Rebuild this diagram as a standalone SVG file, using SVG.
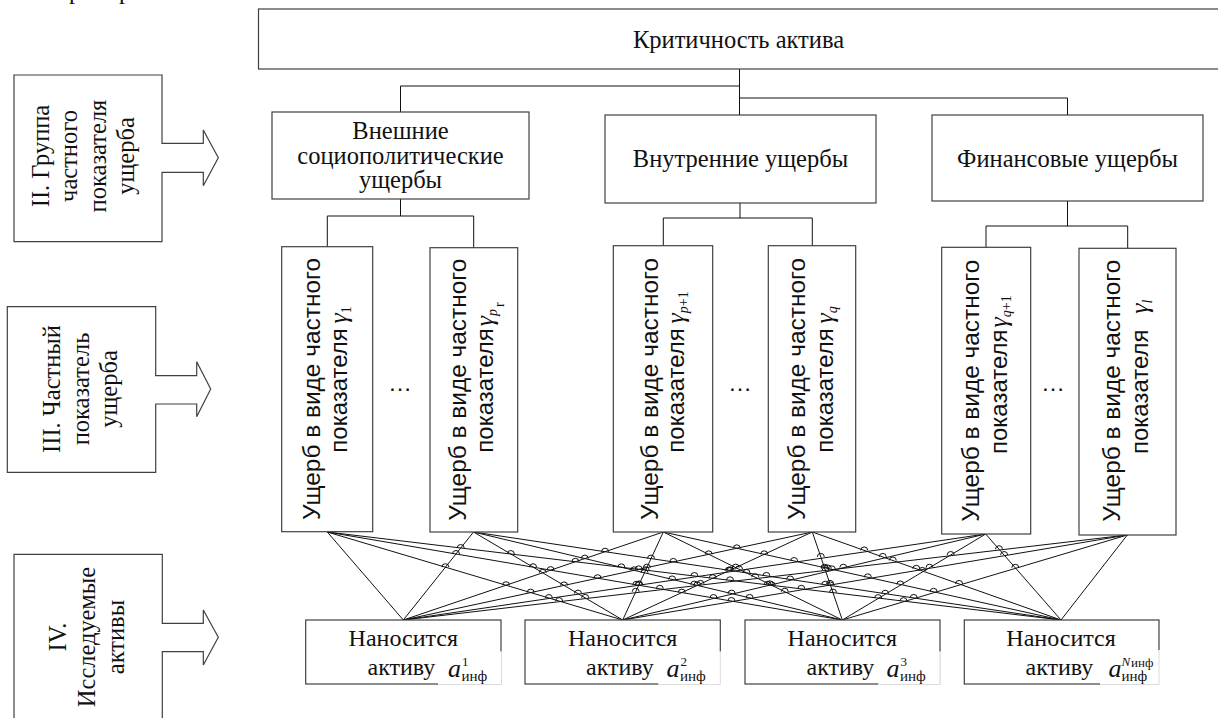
<svg xmlns="http://www.w3.org/2000/svg" width="1218" height="718" viewBox="0 0 1218 718">
<style>
.bx{fill:#fff;stroke:#404040;stroke-width:1.2}
.ln{fill:none;stroke:#111;stroke-width:1}
.sr{font-family:"Liberation Serif","Times New Roman",serif;font-size:24.5px;fill:#111}
.sb{font-family:"Liberation Serif","Times New Roman",serif;font-size:24px;fill:#111}
.ss{font-family:"Liberation Sans",Arial,sans-serif;font-size:24px;fill:#111}
.gm{font-family:"Liberation Serif","Times New Roman",serif;font-style:italic;font-size:26px}
.gs{font-family:"Liberation Serif","Times New Roman",serif;font-size:14px}
.ma{font-family:"Liberation Serif","Times New Roman",serif;font-style:italic;font-size:26px;fill:#111}
.mu{font-family:"Liberation Serif","Times New Roman",serif;font-size:13px;fill:#111}
.mi{font-family:"Liberation Serif","Times New Roman",serif;font-size:15px;fill:#111}
.ov{fill:#fff;stroke:none}
.ol{stroke:#dcdcdc;stroke-width:1;fill:none}
</style>
<rect width="1218" height="718" fill="#fff"/>
<text class="sr" x="69" y="-1">р</text>
<text class="sr" x="119" y="-1">р</text>

<g id="connectors" class="ln">
<path d="M739.5,69 V115 M400.5,86 H739.5 M400.5,86 V112 M739.5,98 H1067.5 V115"/>
<path d="M400.5,199 V216 M327.3,216 H473.7 M327.3,216 V247 M473.7,216 V248"/>
<path d="M740,203 V218 M663.3,218 H812.3 M663.3,218 V246 M812.3,218 V246"/>
<path d="M1067.5,201 V226 M986,226 H1127.7 M986,226 V247.5 M1127.7,226 V248.5"/>
<path d="M327.3,532 L403.3,620 M327.3,532 L622.7,620 M327.3,532 L842.3,620 M327.3,532 L1061,620"/>
<path d="M473.5,532 L403.3,620 M473.5,532 L622.7,620 M473.5,532 L842.3,620 M473.5,532 L1061,620"/>
<path d="M663.3,532 L403.3,620 M663.3,532 L622.7,620 M663.3,532 L842.3,620 M663.3,532 L1061,620"/>
<path d="M812.3,532 L403.3,620 M812.3,532 L622.7,620 M812.3,532 L842.3,620 M812.3,532 L1061,620"/>
<path d="M985.7,534 L403.3,620 M985.7,534 L622.7,620 M985.7,534 L842.3,620 M985.7,534 L1061,620"/>
<path d="M1127.3,535 L403.3,620 M1127.3,535 L622.7,620 M1127.3,535 L842.3,620 M1127.3,535 L1061,620"/>
<path id="hops" d="
M441.9,567.2 a3.5,3.5 0 0 1 7,0 M452.5,554 a3.5,3.5 0 0 1 7,0 M457.2,548 a3.5,3.5 0 0 1 7,0 M529.6,567.2 a3.5,3.5 0 0 1 7,0 M507.3,554 a3.5,3.5 0 0 1 7,0 M617.8,567.3 a3.5,3.5 0 0 1 7,0
M502.5,585.2 a3.5,3.5 0 0 1 7,0 M547.1,570.1 a3.5,3.5 0 0 1 7,0 M571.9,561.8 a3.5,3.5 0 0 1 7,0 M635.3,585.2 a3.5,3.5 0 0 1 7,0 M642.2,570.2 a3.5,3.5 0 0 1 7,0 M768.2,585.3 a3.5,3.5 0 0 1 7,0
M527.2,592.6 a3.5,3.5 0 0 1 7,0 M594.1,578.2 a3.5,3.5 0 0 1 7,0 M635.2,569.3 a3.5,3.5 0 0 1 7,0 M678.3,592.6 a3.5,3.5 0 0 1 7,0 M709.2,578.2 a3.5,3.5 0 0 1 7,0 M829.5,592.6 a3.5,3.5 0 0 1 7,0
M545.4,598 a3.5,3.5 0 0 1 7,0 M632.8,584.8 a3.5,3.5 0 0 1 7,0 M690.9,576 a3.5,3.5 0 0 1 7,0 M710,598 a3.5,3.5 0 0 1 7,0 M764.2,584.8 a3.5,3.5 0 0 1 7,0 M874.6,598.1 a3.5,3.5 0 0 1 7,0
M555.6,601.1 a3.5,3.5 0 0 1 7,0 M656.3,588.8 a3.5,3.5 0 0 1 7,0 M726.5,580.3 a3.5,3.5 0 0 1 7,0 M727.9,601 a3.5,3.5 0 0 1 7,0 M797.8,588.8 a3.5,3.5 0 0 1 7,0 M900,601.1 a3.5,3.5 0 0 1 7,0
M539.2,572.8 a3.5,3.5 0 0 1 7,0 M581.3,558.6 a3.5,3.5 0 0 1 7,0 M601.6,551.7 a3.5,3.5 0 0 1 7,0 M641,572.8 a3.5,3.5 0 0 1 7,0 M647.5,558.6 a3.5,3.5 0 0 1 7,0 M743,572.9 a3.5,3.5 0 0 1 7,0
M560.6,585.4 a3.5,3.5 0 0 1 7,0 M630.6,570.3 a3.5,3.5 0 0 1 7,0 M669.8,561.9 a3.5,3.5 0 0 1 7,0 M693.8,585.4 a3.5,3.5 0 0 1 7,0 M726.1,570.4 a3.5,3.5 0 0 1 7,0 M827,585.5 a3.5,3.5 0 0 1 7,0
M574.5,593.6 a3.5,3.5 0 0 1 7,0 M668.6,579.4 a3.5,3.5 0 0 1 7,0 M727.2,570.5 a3.5,3.5 0 0 1 7,0 M728.1,593.6 a3.5,3.5 0 0 1 7,0 M786.6,579.4 a3.5,3.5 0 0 1 7,0 M881.7,593.7 a3.5,3.5 0 0 1 7,0
M581.7,597.9 a3.5,3.5 0 0 1 7,0 M690.7,584.6 a3.5,3.5 0 0 1 7,0 M762.9,575.9 a3.5,3.5 0 0 1 7,0 M746.1,597.9 a3.5,3.5 0 0 1 7,0 M821.7,584.7 a3.5,3.5 0 0 1 7,0 M910.2,597.9 a3.5,3.5 0 0 1 7,0
M643.4,567.6 a3.5,3.5 0 0 1 7,0 M705.2,554.3 a3.5,3.5 0 0 1 7,0 M733.3,548.3 a3.5,3.5 0 0 1 7,0 M732.2,567.6 a3.5,3.5 0 0 1 7,0 M760.7,554.3 a3.5,3.5 0 0 1 7,0 M821,567.7 a3.5,3.5 0 0 1 7,0
M635.6,584.4 a3.5,3.5 0 0 1 7,0 M735.6,569.3 a3.5,3.5 0 0 1 7,0 M790.6,561 a3.5,3.5 0 0 1 7,0 M766.3,584.3 a3.5,3.5 0 0 1 7,0 M828.3,569.3 a3.5,3.5 0 0 1 7,0 M896.8,584.4 a3.5,3.5 0 0 1 7,0
M632.2,591.8 a3.5,3.5 0 0 1 7,0 M751.8,577.2 a3.5,3.5 0 0 1 7,0 M824.3,568.4 a3.5,3.5 0 0 1 7,0 M781.3,591.7 a3.5,3.5 0 0 1 7,0 M864.3,577.3 a3.5,3.5 0 0 1 7,0 M930.1,591.8 a3.5,3.5 0 0 1 7,0
M725.1,570.8 a3.5,3.5 0 0 1 7,0 M817.3,556.9 a3.5,3.5 0 0 1 7,0 M860.7,550.4 a3.5,3.5 0 0 1 7,0 M822,570.8 a3.5,3.5 0 0 1 7,0 M879.3,556.9 a3.5,3.5 0 0 1 7,0 M918.8,570.9 a3.5,3.5 0 0 1 7,0
M697,583.9 a3.5,3.5 0 0 1 7,0 M821.3,568.8 a3.5,3.5 0 0 1 7,0 M889.3,560.5 a3.5,3.5 0 0 1 7,0 M826.5,583.8 a3.5,3.5 0 0 1 7,0 M912.8,568.8 a3.5,3.5 0 0 1 7,0 M955.6,583.9 a3.5,3.5 0 0 1 7,0
M839.8,567.7 a3.5,3.5 0 0 1 7,0 M947.2,555 a3.5,3.5 0 0 1 7,0 M995.5,549.2 a3.5,3.5 0 0 1 7,0 M926,567.7 a3.5,3.5 0 0 1 7,0 M1000.6,555 a3.5,3.5 0 0 1 7,0 M1011.8,567.8 a3.5,3.5 0 0 1 7,0"/>
</g>

<g id="top">
<rect class="bx" x="258.5" y="9" width="975" height="60"/>
<text class="sr" x="738.5" y="48" text-anchor="middle">Критичность актива</text>
</g>

<g id="grp-ext">
<rect class="bx" x="272" y="112" width="257" height="87"/>
<text class="sr" x="400.5" y="138.5" text-anchor="middle">Внешние</text>
<text class="sr" x="400.5" y="163.5" text-anchor="middle">социополитические</text>
<text class="sr" x="400.5" y="188" text-anchor="middle">ущербы</text>
</g>
<g id="grp-int">
<rect class="bx" x="605" y="115" width="271" height="88"/>
<text class="sr" x="740.5" y="167" text-anchor="middle">Внутренние ущербы</text>
</g>
<g id="grp-fin">
<rect class="bx" x="932" y="115" width="271" height="86"/>
<text class="sr" x="1067.5" y="167" text-anchor="middle">Финансовые ущербы</text>
</g>

<g id="lbl-II">
<path class="bx" d="M14,75 H162 V143.3 H203.3 V130 L218.3,157.7 L203.3,185.7 V172.3 H162 V241.7 H14 Z"/>
<g transform="rotate(-90)" class="sr" text-anchor="middle">
<text x="-156" y="48.5">II. Группа</text>
<text x="-156" y="77">частного</text>
<text x="-156" y="105.5">показателя</text>
<text x="-156" y="134">ущерба</text>
</g>
</g>
<g id="lbl-III">
<path class="bx" d="M7.3,306.7 H155.7 V375.7 H196.7 V361.7 L210.7,389 L196.7,416.7 V404 H155.7 V472.3 H7.3 Z"/>
<g transform="rotate(-90)" class="sr" text-anchor="middle">
<text x="-389" y="60">III. Частный</text>
<text x="-389" y="88.5">показатель</text>
<text x="-389" y="117">ущерба</text>
</g>
</g>
<g id="lbl-IV">
<path class="bx" d="M14,554.3 H162.3 V623.3 H203.3 V610 L218.3,637.3 L203.3,665 V651.7 H162.3 V730 H14 Z"/>
<g transform="rotate(-90)" class="sr" text-anchor="middle">
<text x="-637" y="66">IV.</text>
<text x="-637" y="95">Исследуемые</text>
<text x="-637" y="124">активы</text>
</g>
</g>

<g id="ind-1">
<rect class="bx" x="281.7" y="246.7" width="91" height="285"/>
<g transform="rotate(-90)" class="ss">
<text x="-520" y="320" textLength="262" lengthAdjust="spacingAndGlyphs">Ущерб в виде частного</text>
<text x="-452.7" y="347.3">показателя <tspan class="gm" dx="-2">γ</tspan><tspan class="gs" dy="4">1</tspan></text>
</g>
</g>
<g id="ind-2">
<rect class="bx" x="430" y="247.7" width="87.7" height="284.3"/>
<g transform="rotate(-90)" class="ss">
<text x="-520.7" y="465.7" textLength="262" lengthAdjust="spacingAndGlyphs">Ущерб в виде частного</text>
<text x="-452.7" y="493.3">показателя<tspan class="gm" dx="2">γ</tspan><tspan class="gs" font-style="italic" dy="4">p</tspan><tspan class="gs" font-size="8" dy="7" dx="2">r</tspan></text>
</g>
</g>
<g id="ind-3">
<rect class="bx" x="613.3" y="245.7" width="99.4" height="286.3"/>
<g transform="rotate(-90)" class="ss">
<text x="-520" y="657.7" textLength="262" lengthAdjust="spacingAndGlyphs">Ущерб в виде частного</text>
<text x="-452.7" y="684">показателя <tspan class="gm" dx="-2">γ</tspan><tspan class="gs" font-style="italic" dy="4">p</tspan><tspan class="gs">+1</tspan></text>
</g>
</g>
<g id="ind-4">
<rect class="bx" x="768.3" y="245.7" width="87.4" height="286.3"/>
<g transform="rotate(-90)" class="ss">
<text x="-520" y="805" textLength="262" lengthAdjust="spacingAndGlyphs">Ущерб в виде частного</text>
<text x="-452.7" y="833.3">показателя <tspan class="gm" dx="-2">γ</tspan><tspan class="gs" font-style="italic" dy="4">q</tspan></text>
</g>
</g>
<g id="ind-5">
<rect class="bx" x="941.7" y="247.3" width="89" height="286.7"/>
<g transform="rotate(-90)" class="ss">
<text x="-521.7" y="979.3" textLength="262" lengthAdjust="spacingAndGlyphs">Ущерб в виде частного</text>
<text x="-454" y="1007.3">показателя<tspan class="gm" dx="2">γ</tspan><tspan class="gs" font-style="italic" dy="4">q</tspan><tspan class="gs">+1</tspan></text>
</g>
</g>
<g id="ind-6">
<rect class="bx" x="1079" y="248.3" width="97" height="286.7"/>
<g transform="rotate(-90)" class="ss">
<text x="-521.7" y="1120" textLength="262" lengthAdjust="spacingAndGlyphs">Ущерб в виде частного</text>
<text x="-454" y="1147.7">показателя <tspan class="gm" dx="9">γ</tspan><tspan class="gs" font-style="italic" font-size="10" dy="4">l</tspan></text>
</g>
</g>

<g id="dots" class="ss" font-size="20" text-anchor="middle">
<text x="400" y="391">…</text>
<text x="740" y="391">…</text>
<text x="1053" y="391">…</text>
</g>

<g id="asset-1">
<rect class="bx" x="305.7" y="620" width="195.3" height="64"/>
<rect class="ov" x="438" y="651.5" width="64" height="34"/>
<path class="ol" d="M438,684.5 H501.5 V651.5"/>
<text class="sb" x="403.3" y="646" text-anchor="middle">Наносится</text>
<text class="sb" x="367.5" y="675">активу</text>
<text class="ma" x="448" y="677">a</text>
<text class="mu" x="462" y="665.5">1</text>
<text class="mi" x="461.5" y="681">инф</text>
</g>
<g id="asset-2">
<rect class="bx" x="525" y="620" width="195.3" height="64"/>
<rect class="ov" x="658.3" y="651.5" width="63" height="34"/>
<path class="ol" d="M658.3,684.5 H720.3 V651.5"/>
<text class="sb" x="622.7" y="646" text-anchor="middle">Наносится</text>
<text class="sb" x="586" y="675">активу</text>
<text class="ma" x="666.5" y="677">a</text>
<text class="mu" x="680.5" y="665.5">2</text>
<text class="mi" x="680" y="681">инф</text>
</g>
<g id="asset-3">
<rect class="bx" x="745" y="620" width="195" height="64"/>
<rect class="ov" x="878.3" y="651.5" width="62.5" height="34"/>
<path class="ol" d="M878.3,684.5 H940 V651.5"/>
<text class="sb" x="842.3" y="646" text-anchor="middle">Наносится</text>
<text class="sb" x="806.5" y="675">активу</text>
<text class="ma" x="886.5" y="677">a</text>
<text class="mu" x="900.5" y="665.5">3</text>
<text class="mi" x="900" y="681">инф</text>
</g>
<g id="asset-4">
<rect class="bx" x="964.3" y="620" width="194.7" height="64"/>
<rect class="ov" x="1100" y="650" width="60" height="35.5"/>
<path class="ol" d="M1100,684.5 H1159 V650"/>
<text class="sb" x="1061" y="646" text-anchor="middle">Наносится</text>
<text class="sb" x="1025.5" y="675">активу</text>
<text class="ma" x="1108.5" y="677">a</text>
<text class="mu" x="1121.5" y="665.5" font-style="italic">N</text>
<text class="mu" x="1131" y="667" font-size="9">инф</text>
<text class="mi" x="1121.5" y="681">инф</text>
</g>
</svg>
